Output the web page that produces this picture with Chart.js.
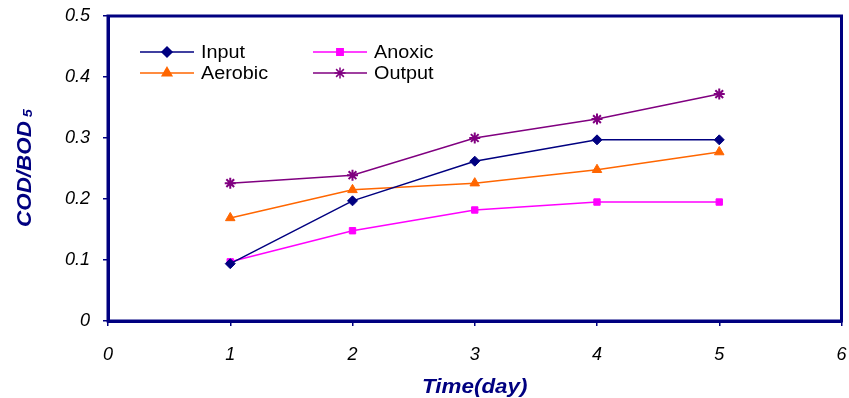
<!DOCTYPE html>
<html>
<head>
<meta charset="utf-8">
<script src="https://cdn.jsdelivr.net/npm/chart.js@4"></script>
<style>
  html, body { margin: 0; padding: 0; background: #fff; }
  #wrap { width: 849px; height: 398px; }
</style>
</head>
<body>
<div id="wrap"><canvas id="chart" width="849" height="398"></canvas></div>
<script>
// Data
const days = [1, 2, 3, 4, 5];
const inputVals = [0.094, 0.197, 0.262, 0.297, 0.297];
const anoxicVals = [0.097, 0.148, 0.182, 0.195, 0.195];
const aerobicVals = [0.169, 0.215, 0.226, 0.248, 0.277];
const outputVals = [0.226, 0.239, 0.300, 0.331, 0.372];
const xTicks = [0, 1, 2, 3, 4, 5, 6];
const yTicks = [0, 0.1, 0.2, 0.3, 0.4, 0.5];

const navy = "#000080";
const fontFam = "'Liberation Sans', Arial, sans-serif";
const toPoints = vals => days.map((d, i) => ({ x: d, y: vals[i] }));

// Legend in the plot, two columns
const legendPlugin = {
  id: "boxLegend",
  afterDraw(chart) {
    const ctx = chart.ctx;
    const slots = [[140, 52], [313, 52], [140, 73], [313, 73]];
    ctx.save();
    chart.data.datasets.forEach((ds, k) => {
      const [x, y] = slots[k];
      ctx.strokeStyle = ds.borderColor;
      ctx.fillStyle = ds.borderColor;
      ctx.lineWidth = 1.5;
      ctx.beginPath();
      ctx.moveTo(x, y);
      ctx.lineTo(x + 54, y);
      ctx.stroke();
      Chart.helpers.drawPoint(ctx, {
        pointStyle: ds.pointStyle,
        radius: ds.pointRadius,
        borderWidth: ds.pointBorderWidth
      }, x + 27, y);
      ctx.fillStyle = "#000";
      ctx.font = "18px " + fontFam;
      ctx.textBaseline = "middle";
      ctx.textAlign = "left";
      ctx.save();
      ctx.translate(x + 61, y + 1);
      ctx.scale(1.1, 1);
      ctx.fillText(ds.label, 0, 0);
      ctx.restore();
    });
    ctx.restore();
  }
};

// Frame and axis titles
const framePlugin = {
  id: "frame",
  beforeDatasetsDraw(chart) {
    const { ctx, chartArea: a } = chart;
    ctx.save();
    ctx.strokeStyle = navy;
    ctx.lineWidth = 3;
    ctx.strokeRect(a.left, a.top, a.right - a.left, a.bottom - a.top);
    ctx.restore();
  },
  afterDraw(chart) {
    const { ctx, chartArea: a } = chart;
    ctx.save();
    ctx.fillStyle = navy;
    ctx.font = "bold italic 20px " + fontFam;
    ctx.textAlign = "center";
    ctx.textBaseline = "middle";
    ctx.save();
    ctx.translate((a.left + a.right) / 2, 387);
    ctx.scale(1.12, 1);
    ctx.fillText("Time(day)", 0, 0);
    ctx.restore();
    // y title with subscript 5
    ctx.translate(25, 168);
    ctx.rotate(-Math.PI / 2);
    ctx.scale(1.12, 1);
    const main = "COD/BOD";
    ctx.font = "bold italic 20px " + fontFam;
    const w = ctx.measureText(main).width;
    ctx.font = "bold italic 13px " + fontFam;
    const w5 = ctx.measureText(" 5").width;
    const start = -(w + w5) / 2;
    ctx.textAlign = "left";
    ctx.font = "bold italic 20px " + fontFam;
    ctx.fillText(main, start, 0);
    ctx.font = "bold italic 13px " + fontFam;
    ctx.fillText(" 5", start + w, 3);
    ctx.restore();
  }
};

function makeSet(label, vals, color, style, radius) {
  return {
    label: label,
    data: toPoints(vals),
    borderColor: color,
    backgroundColor: color,
    pointBackgroundColor: color,
    pointBorderColor: color,
    pointStyle: style,
    pointRadius: radius,
    pointBorderWidth: style === "star" ? 2 : 1,
    borderWidth: 1.5,
    tension: 0
  };
}

new Chart(document.getElementById("chart"), {
  type: "line",
  data: {
    datasets: [
      makeSet("Input", inputVals, "#000080", "rectRot", 5),
      makeSet("Anoxic", anoxicVals, "#FF00FF", "rect", 4.5),
      makeSet("Aerobic", aerobicVals, "#FF6600", "triangle", 5.5),
      makeSet("Output", outputVals, "#800080", "star", 5.5)
    ]
  },
  options: {
    responsive: false,
    animation: false,
    layout: { padding: { top: 16, right: 7, left: 0, bottom: 0 } },
    plugins: {
      legend: { display: false },
      tooltip: { enabled: false }
    },
    scales: {
      x: {
        type: "linear",
        min: 0, max: 6,
        afterBuildTicks: s => { s.ticks = xTicks.map(v => ({ value: v })); },
        afterFit: s => {
          s.height = 77;
          s.paddingLeft = 0;
          s.paddingRight = 0;
        },
        border: { display: true, color: navy, width: 3 },
        grid: { drawOnChartArea: false, drawTicks: true, tickLength: 5, color: navy, lineWidth: 1.5 },
        ticks: {
          color: "#000",
          padding: 18,
          font: { family: fontFam, size: 18, style: "italic" }
        }
      },
      y: {
        type: "linear",
        min: 0, max: 0.5,
        afterBuildTicks: s => { s.ticks = yTicks.map(v => ({ value: v })); },
        afterFit: s => {
          s.width = 108;
          s.paddingTop = 0;
          s.paddingBottom = 0;
        },
        border: { display: true, color: navy, width: 3 },
        grid: { drawOnChartArea: false, drawTicks: true, tickLength: 5, color: navy, lineWidth: 1.5 },
        ticks: {
          color: "#000",
          padding: 13,
          callback: v => String(Math.round(v * 10) / 10),
          font: { family: fontFam, size: 18, style: "italic" }
        }
      }
    }
  },
  plugins: [framePlugin, legendPlugin]
});
</script>
</body>
</html>
